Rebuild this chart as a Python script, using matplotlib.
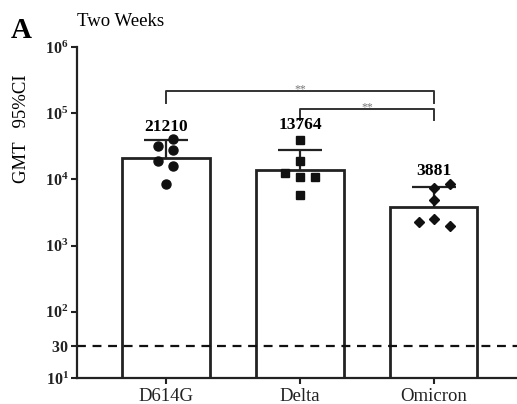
import numpy as np
import matplotlib.pyplot as plt

plt.rcParams['font.family'] = ['Liberation Serif', 'DejaVu Serif']
plt.rcParams['mathtext.fontset'] = 'custom'
plt.rcParams['mathtext.rm'] = 'Liberation Serif'
plt.rcParams['mathtext.bf'] = 'Liberation Serif:bold'

# data
variants = ["D614G", "Delta", "Omicron"]
gmt = [21210, 13764, 3881]
ci_upper = [39000, 27600, 7700]
d614g_pts = [40700, 31900, 27800, 18970, 15900, 8500]
delta_pts = [39400, 19000, 12500, 10900, 10900, 5800]
omicron_pts = [8500, 7400, 4900, 2520, 2270, 1980]
pt_offsets = {
    "D614G": [0.05, -0.06, 0.05, -0.06, 0.05, 0.0],
    "Delta": [0.0, 0.0, -0.11, 0.0, 0.11, 0.0],
    "Omicron": [0.12, 0.0, 0.0, 0.0, -0.11, 0.12],
}
markers = ["o", "s", "D"]
label_y = [10 ** 4.67, 10 ** 4.70, 10 ** 4.01]
cutoff = 30

fig = plt.figure(figsize=(5.17, 4.04), dpi=100)
ax = fig.add_axes([0.149, 0.0644, 0.851, 0.8193])

x = np.arange(len(variants))
ax.bar(x, [g - 10 for g in gmt], bottom=10, width=0.65, color='white',
       edgecolor='#222222', linewidth=2, zorder=2)
# upper half of the 95% CI only
ax.vlines(x, gmt, ci_upper, color='#222222', linewidth=1.6, zorder=3)
ax.hlines(ci_upper, x - 0.165, x + 0.165, color='#222222', linewidth=1.6,
          zorder=3)

for i, (pts, m) in enumerate(zip([d614g_pts, delta_pts, omicron_pts], markers)):
    offs = pt_offsets[variants[i]]
    ms = 6.5 if m == "o" else (6 if m == "s" else 5.5)
    ax.plot(x[i] + np.array(offs), pts, linestyle='none', marker=m,
            color='#111111', markersize=ms, zorder=4)

for xi, g, ly in zip(x, gmt, label_y):
    ax.text(xi, ly, str(g), ha='center', va='bottom', fontsize=12.5,
            fontweight='bold')

ax.axhline(cutoff, color='#111111', linestyle=(0, (4, 3)), linewidth=1.6,
           zorder=2.5)

# significance brackets
def bracket(x1, x2, y, leg, label):
    ax.plot([x1, x1, x2, x2], [y / leg, y, y, y / leg], color='#333333',
            linewidth=1.4, clip_on=False)
    ax.text((x1 + x2) / 2, y * 10 ** 0.02, label, ha='center', va='center',
            fontsize=8.5, color='#777777')

bracket(0, 2, 10 ** 5.34, 10 ** 0.18, "**")
bracket(1, 2, 10 ** 5.07, 10 ** 0.18, "**")

ax.set_yscale('log')
ax.set_ylim(10, 1e6)
ax.set_xlim(-0.664, 2.62)
ticks = [10, 30, 100, 1000, 10000, 100000, 1000000]
labels = [r'$\mathbf{10^{1}}$', r'$\mathbf{30}$', r'$\mathbf{10^{2}}$',
          r'$\mathbf{10^{3}}$', r'$\mathbf{10^{4}}$', r'$\mathbf{10^{5}}$',
          r'$\mathbf{10^{6}}$']
ax.set_yticks(ticks)
ax.set_yticklabels(labels, fontsize=11.5)
ax.minorticks_off()
ax.set_xticks(x)
ax.set_xticklabels(variants, fontsize=13.5)
ax.tick_params(axis='both', direction='out', length=4, width=1.5, colors='#222222')
ax.tick_params(axis='y', pad=2)

for s in ['top', 'right']:
    ax.spines[s].set_visible(False)
for s in ['left', 'bottom']:
    ax.spines[s].set_linewidth(1.6)
    ax.spines[s].set_color('#222222')

fig.text(22 / 517, 1 - 129 / 404, 'GMT   95%CI', fontsize=13.5, rotation=90,
         ha='center', va='center')
fig.text(77 / 517, 1 - 21 / 404, 'Two Weeks', fontsize=13.5, va='center')
fig.text(11 / 517, 1 - 31 / 404, 'A', fontsize=21, fontweight='bold',
         va='center')

fig.savefig('out.png', dpi=100)
